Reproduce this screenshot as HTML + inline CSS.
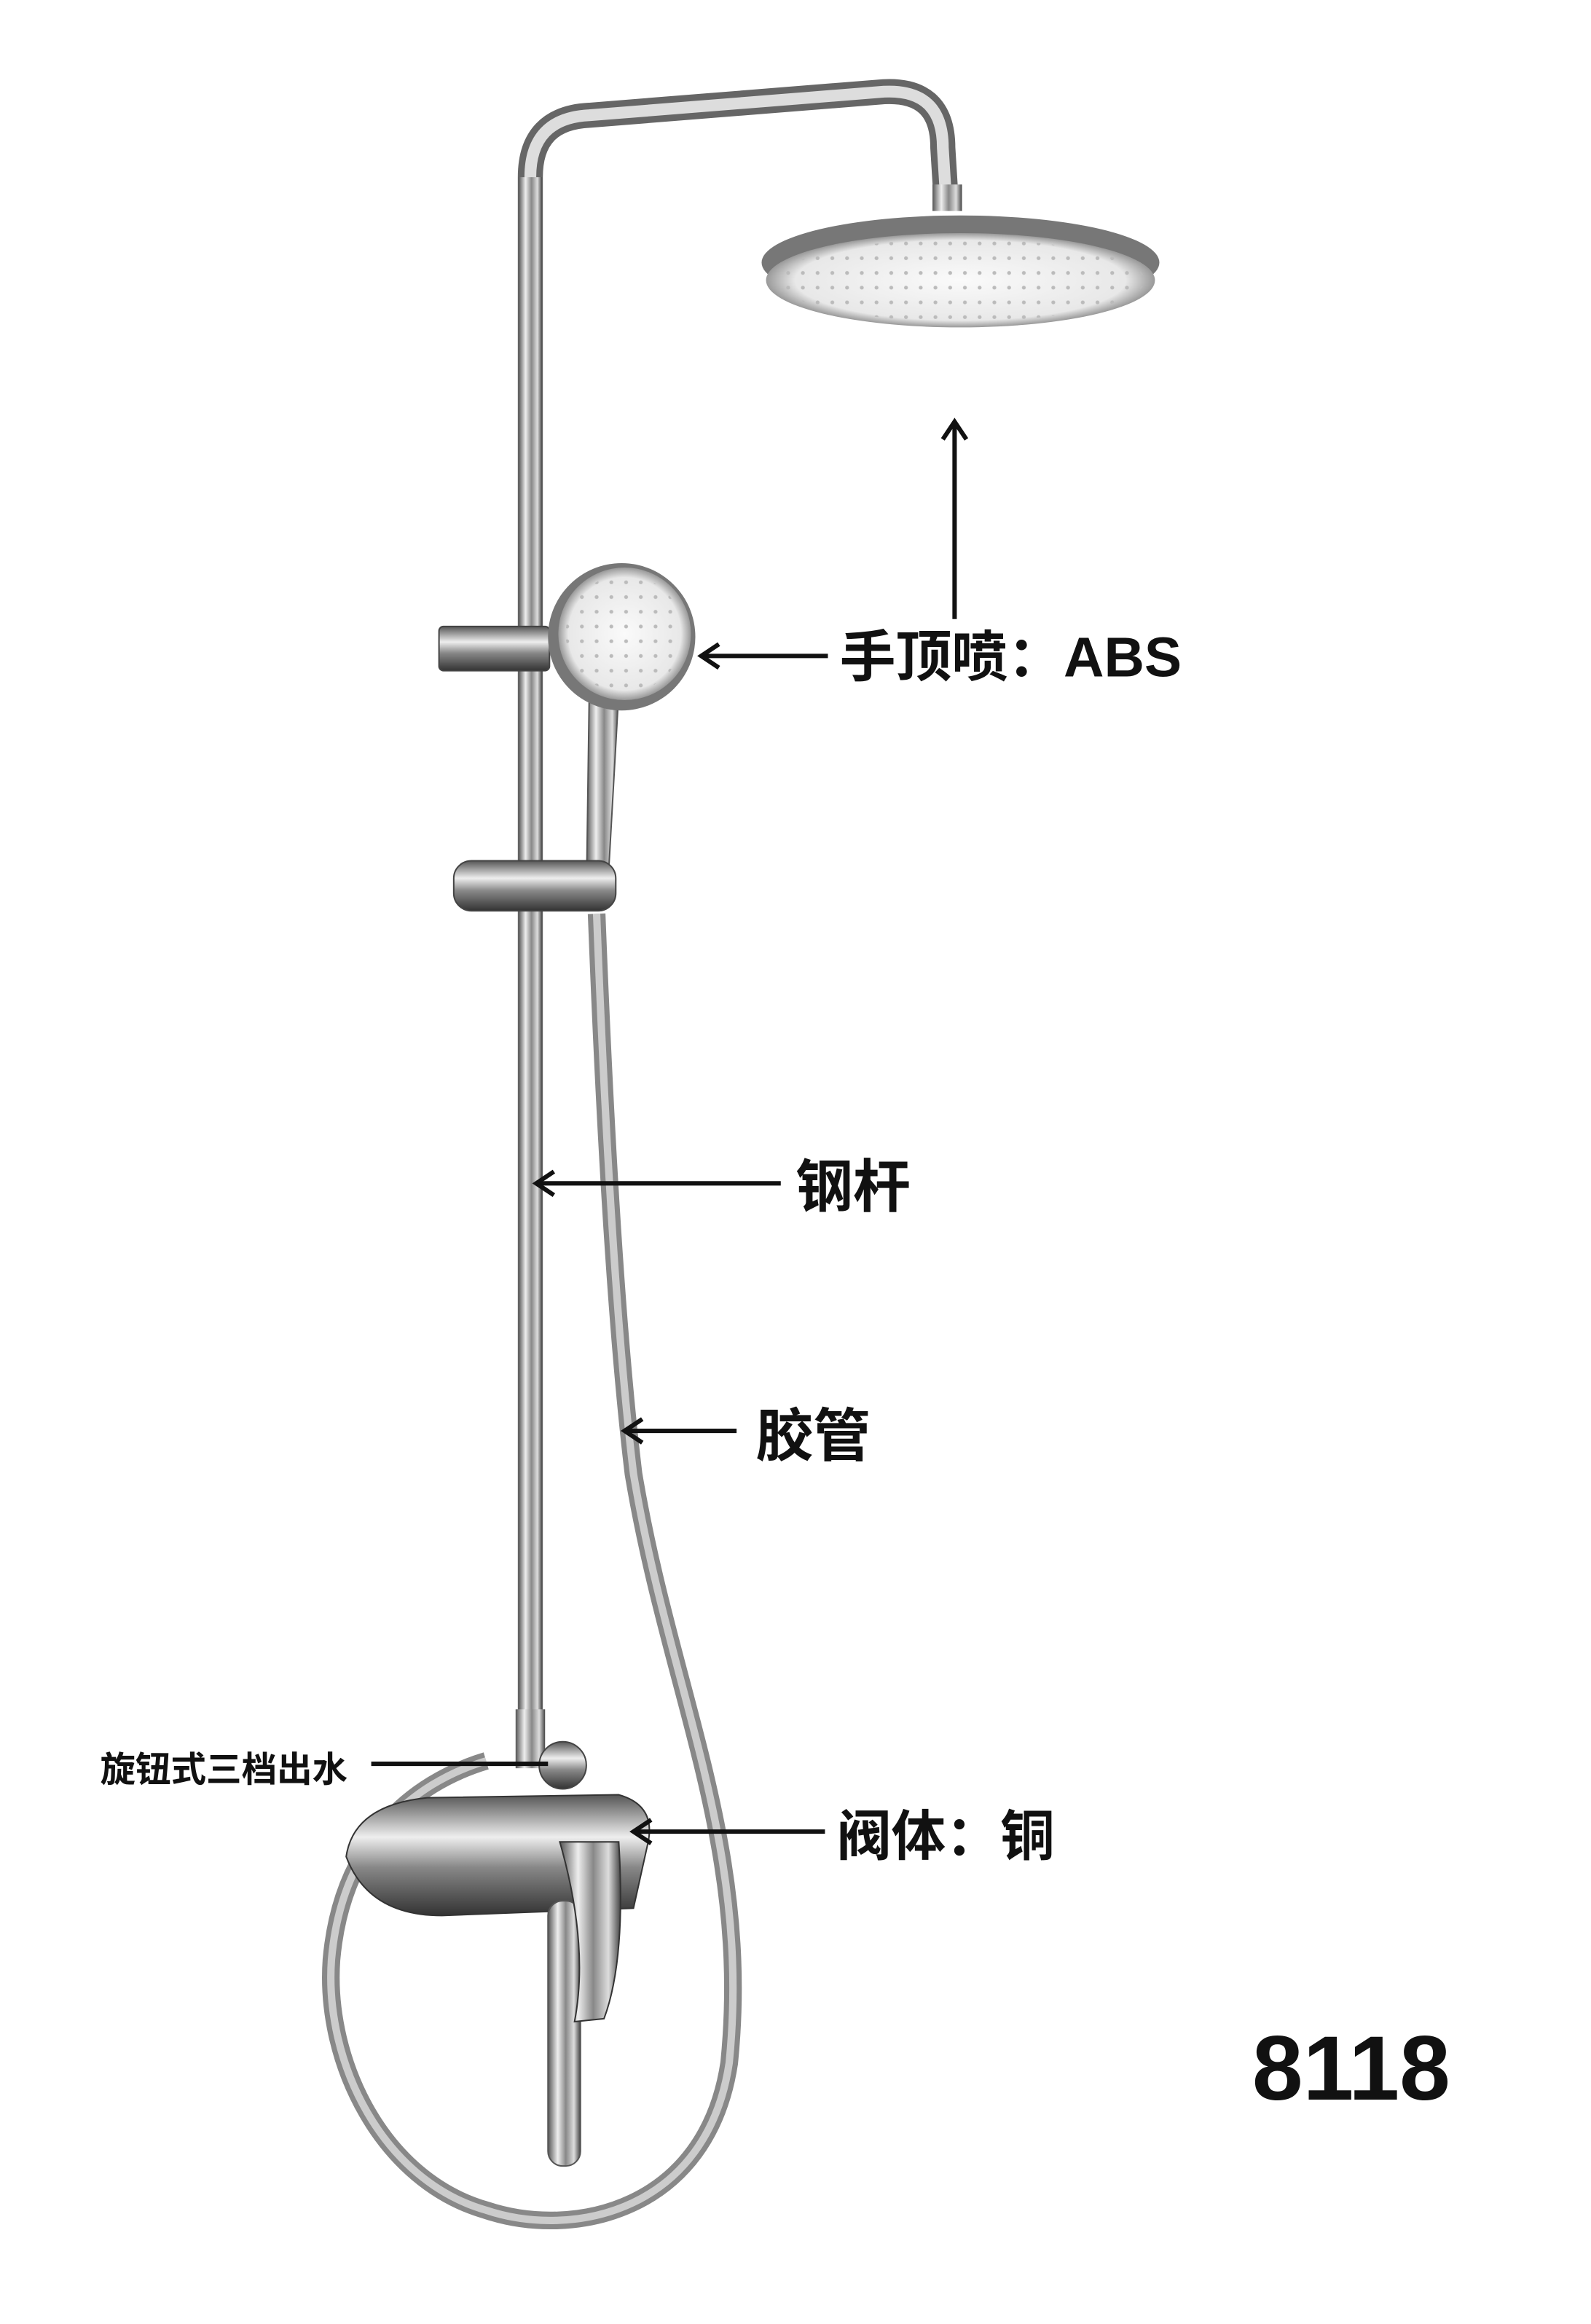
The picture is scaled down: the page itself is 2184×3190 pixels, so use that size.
<!DOCTYPE html>
<html><head><meta charset="utf-8"><style>
html,body{margin:0;padding:0;background:#fff;}
svg{display:block;}
text{font-family:"Liberation Sans","Noto Sans CJK SC",sans-serif;font-weight:bold;fill:#111;}
</style></head><body>
<svg width="2184" height="3190" viewBox="0 0 1080 1577" xmlns="http://www.w3.org/2000/svg">
<defs>
<linearGradient id="chv" x1="0" x2="1" y1="0" y2="0">
<stop offset="0" stop-color="#555"/><stop offset="0.3" stop-color="#eee"/><stop offset="0.55" stop-color="#888"/><stop offset="0.8" stop-color="#ddd"/><stop offset="1" stop-color="#444"/></linearGradient>
<linearGradient id="chh" x1="0" x2="0" y1="0" y2="1">
<stop offset="0" stop-color="#555"/><stop offset="0.35" stop-color="#eee"/><stop offset="0.6" stop-color="#888"/><stop offset="1" stop-color="#333"/></linearGradient>
<radialGradient id="face" cx="0.5" cy="0.5" r="0.5"><stop offset="0" stop-color="#fafafa"/><stop offset="0.85" stop-color="#e8e8e8"/><stop offset="1" stop-color="#999"/></radialGradient>
<pattern id="dots" width="10" height="10" patternUnits="userSpaceOnUse"><circle cx="5" cy="5" r="1.3" fill="#bbb"/></pattern>
</defs>
<path d="M360 1170 L360 120 Q360 80 400 78 L600 62 Q640 60 640 100 L642 132" fill="none" stroke="#666" stroke-width="17"/>
<path d="M360 1170 L360 120 Q360 80 400 78 L600 62 Q640 60 640 100 L642 132" fill="none" stroke="#ddd" stroke-width="8"/>
<rect x="352" y="120" width="16" height="1050" fill="url(#chv)"/>
<rect x="633" y="125" width="20" height="18" fill="url(#chv)"/>
<ellipse cx="652" cy="178" rx="135" ry="32" fill="#777"/>
<ellipse cx="652" cy="190" rx="132" ry="32" fill="url(#face)"/>
<ellipse cx="652" cy="190" rx="125" ry="28" fill="url(#dots)"/>
<path d="M405 620 C410 750 418 900 430 1000 C455 1150 510 1250 495 1400 C480 1500 390 1520 330 1500 C260 1480 220 1400 225 1330 C232 1250 280 1210 330 1195" fill="none" stroke="#888" stroke-width="12"/>
<path d="M405 620 C410 750 418 900 430 1000 C455 1150 510 1250 495 1400 C480 1500 390 1520 330 1500 C260 1480 220 1400 225 1330 C232 1250 280 1210 330 1195" fill="none" stroke="#ccc" stroke-width="5"/>
<rect x="298" y="425" width="75" height="30" rx="3" fill="url(#chh)" stroke="#444"/>
<path d="M400 470 L420 470 L412 612 L398 612 Z" fill="url(#chv)" stroke="#555"/>
<circle cx="422" cy="432" r="50" fill="#777"/>
<circle cx="424" cy="430" r="45" fill="url(#face)"/>
<circle cx="424" cy="430" r="40" fill="url(#dots)"/>
<rect x="308" y="584" width="110" height="34" rx="12" fill="url(#chh)" stroke="#444"/>
<rect x="350" y="1160" width="20" height="40" fill="url(#chv)"/>
<circle cx="382" cy="1198" r="16" fill="url(#chh)" stroke="#444"/>
<path d="M235 1260 Q240 1225 290 1220 L420 1218 Q445 1225 440 1250 L430 1295 L300 1300 Q250 1300 235 1260Z" fill="url(#chh)" stroke="#333"/>
<rect x="372" y="1290" width="22" height="180" rx="10" fill="url(#chv)" stroke="#555"/>
<path d="M380 1250 L420 1250 Q425 1330 410 1370 L390 1372 Q400 1320 380 1250Z" fill="url(#chv)" stroke="#333"/>
<g stroke="#111" stroke-width="3" fill="none">
<line x1="648" y1="420" x2="648" y2="288"/><polyline points="640,298 648,286 656,298"/>
<line x1="562" y1="445" x2="478" y2="445"/><polyline points="488,437 476,445 488,453"/>
<line x1="530" y1="803" x2="366" y2="803"/><polyline points="376,795 364,803 376,811"/>
<line x1="500" y1="971" x2="426" y2="971"/><polyline points="436,963 424,971 436,979"/>
<line x1="252" y1="1197" x2="372" y2="1197"/>
<line x1="560" y1="1243" x2="432" y2="1243"/><polyline points="442,1235 430,1243 442,1251"/>
</g>
<text x="570" y="459" font-size="38">手顶喷：ABS</text>
<text x="540" y="819" font-size="39">钢杆</text>
<text x="513" y="988" font-size="39">胶管</text>
<text x="68" y="1209" font-size="24">旋钮式三档出水</text>
<text x="568" y="1259" font-size="37">阀体：铜</text>
<text x="850" y="1425" font-size="62">8118</text>
</svg>
</body></html>
